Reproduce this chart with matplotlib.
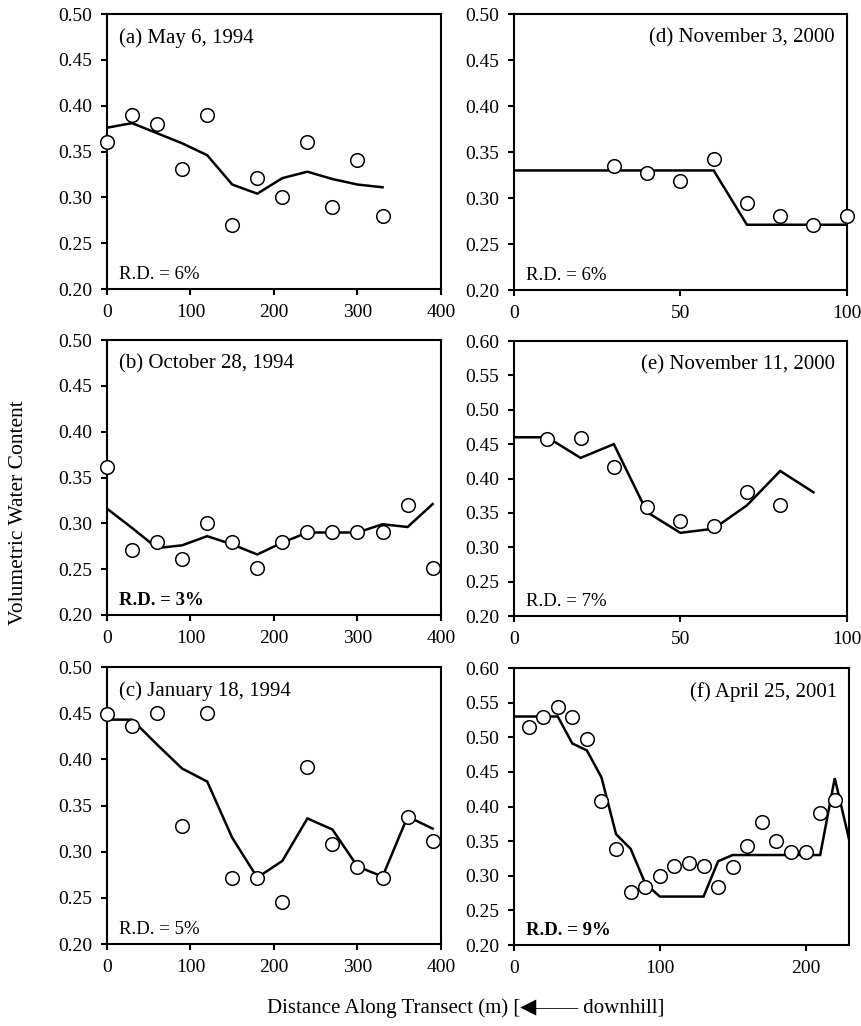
import numpy as np
import matplotlib
matplotlib.use("Agg")
import matplotlib.pyplot as plt

plt.rcParams['font.family'] = ['Liberation Serif', 'DejaVu Serif', 'DejaVu Sans']

# (a) May 6, 1994 -- 30 m spacing
a_x = [0, 30, 60, 90, 120, 150, 180, 210, 240, 270, 300, 330]
a_obs = [0.360, 0.390, 0.380, 0.331, 0.390, 0.270, 0.321, 0.300, 0.360, 0.290, 0.341, 0.280]
a_mod = [0.376, 0.381, 0.370, 0.359, 0.346, 0.314, 0.304, 0.321, 0.328, 0.320, 0.314, 0.311]

# (b) October 28, 1994
b_x = [0, 30, 60, 90, 120, 150, 180, 210, 240, 270, 300, 330, 360, 390]
b_obs = [0.361, 0.271, 0.280, 0.261, 0.300, 0.280, 0.251, 0.280, 0.290, 0.290, 0.290, 0.290, 0.320, 0.251]
b_mod = [0.316, 0.295, 0.273, 0.276, 0.286, 0.277, 0.266, 0.279, 0.290, 0.290, 0.290, 0.299, 0.296, 0.321]

# (c) January 18, 1994
c_x = [0, 30, 60, 90, 120, 150, 180, 210, 240, 270, 300, 330, 360, 390]
c_obs = [0.449, 0.436, 0.450, 0.328, 0.450, 0.272, 0.272, 0.246, 0.392, 0.308, 0.283, 0.272, 0.338, 0.312]
c_mod = [0.443, 0.443, 0.416, 0.390, 0.376, 0.315, 0.272, 0.290, 0.336, 0.324, 0.284, 0.273, 0.338, 0.325]

# (d) November 3, 2000 -- 10 m spacing
d_x_obs = [30, 40, 50, 60, 70, 80, 90, 100]
d_obs = [0.335, 0.327, 0.319, 0.342, 0.295, 0.280, 0.271, 0.280]
d_x_mod = [0, 10, 20, 30, 40, 50, 60, 70, 80, 90, 100]
d_mod = [0.330, 0.330, 0.330, 0.330, 0.330, 0.330, 0.330, 0.271, 0.271, 0.271, 0.271]

# (e) November 11, 2000
e_x_obs = [10, 20, 30, 40, 50, 60, 70, 80]
e_obs = [0.457, 0.459, 0.417, 0.359, 0.338, 0.331, 0.380, 0.361]
e_x_mod = [0, 10, 20, 30, 40, 50, 60, 70, 80, 90]
e_mod = [0.460, 0.460, 0.430, 0.450, 0.351, 0.321, 0.327, 0.361, 0.411, 0.380]

# (f) April 25, 2001
f_x_obs = [10, 20, 30, 40, 50, 60, 70, 80, 90, 100, 110, 120, 130, 140, 150,
           160, 170, 180, 190, 200, 210, 220]
f_obs = [0.515, 0.530, 0.544, 0.530, 0.497, 0.408, 0.339, 0.276, 0.284, 0.299, 0.314,
         0.318, 0.314, 0.284, 0.312, 0.343, 0.377, 0.350, 0.335, 0.335, 0.391, 0.410]
f_x_mod = [0, 10, 20, 30, 40, 50, 60, 70, 80, 90, 100, 110, 120, 130, 140, 150,
           160, 170, 180, 190, 200, 210, 220, 230]
f_mod = [0.530, 0.530, 0.530, 0.530, 0.491, 0.481, 0.442, 0.360, 0.339, 0.289, 0.270, 0.270,
         0.270, 0.270, 0.321, 0.330, 0.330, 0.330, 0.330, 0.330, 0.330, 0.330, 0.441, 0.351]

panels = [
    dict(pos=[0.1241, 0.7183, 0.3875, 0.268], xo=a_x, yo=a_obs, xm=a_x, ym=a_mod,
         title="(a) May 6, 1994", rd="R.D. = 6%", bold=False, left=True,
         xlim=(0, 400), xt=[0, 100, 200, 300, 400], ylim=(0.2, 0.5)),
    dict(pos=[0.1241, 0.4006, 0.3875, 0.268], xo=b_x, yo=b_obs, xm=b_x, ym=b_mod,
         title="(b) October 28, 1994", rd="R.D. = 3%", bold=True, left=True,
         xlim=(0, 400), xt=[0, 100, 200, 300, 400], ylim=(0.2, 0.5)),
    dict(pos=[0.1241, 0.0799, 0.3875, 0.270], xo=c_x, yo=c_obs, xm=c_x, ym=c_mod,
         title="(c) January 18, 1994", rd="R.D. = 5%", bold=False, left=True,
         xlim=(0, 400), xt=[0, 100, 200, 300, 400], ylim=(0.2, 0.5)),
    dict(pos=[0.5963, 0.7173, 0.386, 0.269], xo=d_x_obs, yo=d_obs, xm=d_x_mod, ym=d_mod,
         title="(d) November 3, 2000", rd="R.D. = 6%", bold=False, left=False,
         xlim=(0, 100), xt=[0, 50, 100], ylim=(0.2, 0.5)),
    dict(pos=[0.5963, 0.3996, 0.386, 0.268], xo=e_x_obs, yo=e_obs, xm=e_x_mod, ym=e_mod,
         title="(e) November 11, 2000", rd="R.D. = 7%", bold=False, left=False,
         xlim=(0, 100), xt=[0, 50, 100], ylim=(0.2, 0.6)),
    dict(pos=[0.5963, 0.0789, 0.389, 0.270], xo=f_x_obs, yo=f_obs, xm=f_x_mod, ym=f_mod,
         title="(f) April 25, 2001", rd="R.D. = 9%", bold=True, left=False,
         xlim=(0, 230), xt=[0, 100, 200], ylim=(0.2, 0.6)),
]

fig = plt.figure(figsize=(8.62, 10.26), dpi=100)

for p in panels:
    ax = fig.add_axes(p['pos'])
    ax.plot(p['xm'], p['ym'], color='black', lw=1.8, solid_joinstyle='miter', zorder=2)
    ax.plot(p['xo'], p['yo'], 'o', ms=9.8, mfc='white', mec='black', mew=1.1,
            clip_on=False, zorder=3)
    ax.set_xlim(*p['xlim'])
    ax.set_ylim(*p['ylim'])
    ax.set_xticks(p['xt'])
    ax.set_yticks(np.arange(p['ylim'][0], p['ylim'][1] + 0.001, 0.05))
    ax.yaxis.set_major_formatter(matplotlib.ticker.FormatStrFormatter('%.2f'))
    for s in ax.spines.values():
        s.set_linewidth(1.5)
    ax.tick_params(direction='out', length=4.5, width=1.5, labelsize=14, pad=6)
    if p['left']:
        ax.text(0.035, 0.95, p['title'], transform=ax.transAxes, ha='left', va='top', fontsize=15)
    else:
        ax.text(0.965, 0.95, p['title'], transform=ax.transAxes, ha='right', va='top', fontsize=15)
    ax.text(0.035, 0.035, p['rd'], transform=ax.transAxes, ha='left', va='baseline',
            fontsize=13.5, fontweight='bold' if p['bold'] else 'normal')

fig.text(0.021, 0.5, "Volumetric Water Content", rotation=90, ha='center', va='center', fontsize=15.5)
fig.text(0.54, 0.008, "Distance Along Transect (m) [\u25c0\u2014\u2014 downhill]",
         ha='center', va='bottom', fontsize=15)

fig.savefig("out.png", dpi=100)
